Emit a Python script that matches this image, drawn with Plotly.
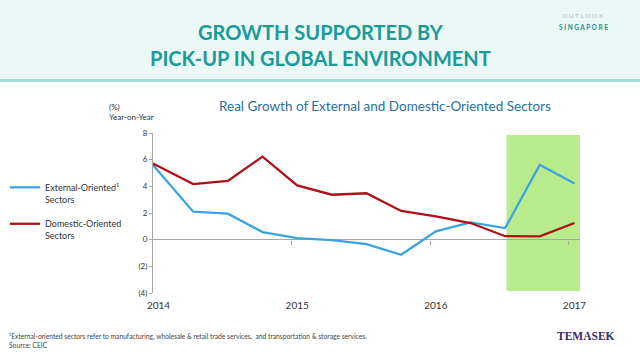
import plotly.graph_objects as go

# Data
x_years = [2014.0, 2014.29, 2014.54, 2014.79, 2015.04, 2015.29, 2015.54,
           2015.79, 2016.04, 2016.29, 2016.54, 2016.79, 2017.04]
external = [5.6, 2.1, 1.95, 0.57, 0.12, -0.03, -0.33, -1.13, 0.62, 1.3, 0.87, 5.62, 4.22]
domestic = [5.72, 4.17, 4.4, 6.23, 4.07, 3.37, 3.48, 2.15, 1.75, 1.25, 0.26, 0.25, 1.25]

year_labels = ["2014", "2015", "2016", "2017"]
year_label_pos = [2014.04, 2015.04, 2016.04, 2017.04]
year_ticks = [2015, 2016, 2017]
y_tickvals = [-4, -2, 0, 2, 4, 6, 8]
y_ticktext = ["(4)", "(2)", "0", "2", "4", "6", "8"]
highlight = [2016.55, 2017.08]

FONT = "Lato"
W, H = 640, 360

fig = go.Figure()
fig.add_trace(go.Scatter(x=x_years, y=external, mode="lines",
                         name="External-Oriented¹<br>Sectors",
                         line=dict(color="#3ba3e0", width=2.3), legendgroup="a"))
fig.add_trace(go.Scatter(x=x_years, y=domestic, mode="lines",
                         name="Domestic-Oriented<br>Sectors",
                         line=dict(color="#ad1019", width=2.3), legendgroup="b"))
# helper trace for the tick axis placed on the zero line
fig.add_trace(go.Scatter(x=[x_years[0]], y=[0], xaxis="x2", mode="markers",
                         marker=dict(opacity=0), showlegend=False, hoverinfo="skip"))

px_left, px_right, px_top, px_bottom = 153, 580, 133, 293
xdom = [px_left / W, px_right / W]
ydom = [(H - px_bottom) / H, (H - px_top) / H]

fig.update_layout(
    width=W, height=H,
    margin=dict(l=0, r=0, t=0, b=0, autoexpand=False),
    paper_bgcolor="white", plot_bgcolor="white",
    font=dict(family=FONT, color="#333333"),
    xaxis=dict(domain=xdom, range=[2014.0, 2017.08], tickvals=year_label_pos,
               ticktext=year_labels, showgrid=False, zeroline=False, showline=False,
               ticks="", ticklabelstandoff=5, tickfont=dict(size=10, color="#333333"),
               automargin=False),
    xaxis2=dict(domain=xdom, range=[2014.0, 2017.08], overlaying="x", anchor="free",
                position=(H - 240) / H, tickvals=year_ticks, showticklabels=False,
                ticks="outside", ticklen=4, tickcolor="#a6a6a6", showgrid=False,
                zeroline=False, showline=False, automargin=False),
    yaxis=dict(domain=ydom, range=[-4, 8], tickvals=y_tickvals, ticktext=y_ticktext,
               showgrid=False, showline=True, linecolor="#a6a6a6", linewidth=1,
               ticks="outside", ticklen=3, tickcolor="#a6a6a6",
               zeroline=True, zerolinecolor="#a6a6a6", zerolinewidth=1,
               tickfont=dict(size=8, color="#333333"), automargin=False),
    legend=dict(x=5 / W, y=(H - 175) / H, xanchor="left", yanchor="top",
                font=dict(size=9, color="#333333", family=FONT), valign="top",
                tracegroupgap=10, itemwidth=30, bgcolor="rgba(0,0,0,0)"),
    showlegend=True,
)

shapes = [
    # header band
    dict(type="rect", xref="paper", yref="paper", x0=0, x1=1, y0=1 - 79 / H, y1=1,
         fillcolor="#eaf8f6", line=dict(width=0), layer="below"),
    dict(type="rect", xref="paper", yref="paper", x0=0, x1=1, y0=1 - 82 / H, y1=1 - 79 / H,
         fillcolor="#a3ddd6", line=dict(width=0), layer="below"),
    # highlight band
    dict(type="rect", xref="x", yref="y", x0=highlight[0], x1=highlight[1], y0=-3.85, y1=7.85,
         fillcolor="#b8eb8c", line=dict(width=0), layer="below"),
]
fig.update_layout(shapes=shapes)


def ann(text, px, py, size, color, xanchor="center", family=FONT, align="center"):
    return dict(text=text, x=px / W, y=1 - py / H, xref="paper", yref="paper",
                showarrow=False, xanchor=xanchor, yanchor="middle", align=align,
                font=dict(size=size, color=color, family=family))


annotations = [
    ann("<b>GROWTH SUPPORTED BY<br>PICK-UP IN GLOBAL ENVIRONMENT</b>", 320, 45, 20, "#1b9a9a"),
    ann("O U T L O O K", 583, 16, 6.5, "#9fc4c2"),
    ann("<b>S I N G A P O R E</b>", 583, 28, 6.5, "#2a8e8c"),
    ann("Real Growth of External and Domestic-Oriented Sectors", 385, 106, 13.5, "#2a6f9b"),
    ann("(%)<br>Year-on-Year", 107, 112, 8, "#333333", xanchor="left", align="left"),
    ann("¹External-oriented sectors refer to manufacturing, wholesale &amp; retail trade services,  "
        "and transportation &amp; storage services.<br>Source: CEIC",
        7, 340, 6.7, "#444444", xanchor="left", align="left"),
    ann("<b>TEMASEK</b>", 586, 336, 11.5, "#3b2a6a", family="Liberation Serif"),
]
fig.update_layout(annotations=annotations)

fig.write_html("out.html", config={"displayModeBar": False},
               post_script="document.body.style.margin='0';document.body.style.overflow='hidden';")
